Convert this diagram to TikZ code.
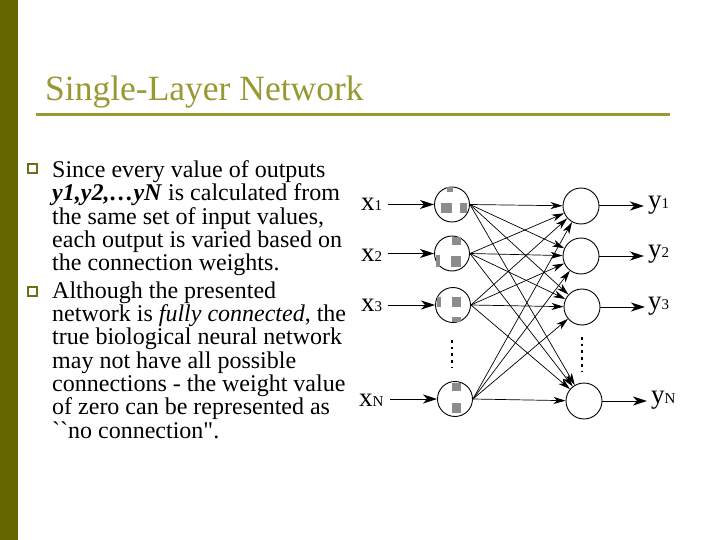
\documentclass[tikz,border=0pt]{standalone}
\usepackage{fontspec}
\setmainfont{Liberation Serif}[Ligatures=TeXOff]
\usetikzlibrary{arrows.meta,patterns}
\definecolor{barolive}{RGB}{102,102,0}
\definecolor{titleolive}{RGB}{153,153,51}
\definecolor{bulletolive}{RGB}{110,110,20}
\newcommand\sublab[1]{{\fontsize{15}{15}\selectfont #1}}
\begin{document}
\begin{tikzpicture}[x=1pt,y=-1pt,
  bulletbox/.style={draw=bulletolive,line width=2pt,fill=white,minimum size=9pt,inner sep=0pt},
  para/.style={anchor=north west,inner sep=0pt,align=left,font=\fontsize{24}{23.3}\selectfont},
  incircle/.style={circle,draw,line width=0.9pt,minimum size=35pt,inner sep=0pt},
  outcircle/.style={circle,draw,line width=0.9pt,minimum size=36pt,inner sep=0pt},
  lab/.style={anchor=base west,inner sep=0pt,font=\fontsize{27}{27}\selectfont},
  inarrow/.style={line width=1pt,-{Stealth[length=14pt,width=9pt,inset=4pt]}},
  outarrow/.style={line width=1pt,-{Stealth[length=14pt,width=9pt,inset=4pt]}},
  conn/.style={line width=0.7pt,-{Stealth[length=12pt,width=7pt,inset=3.5pt]}},
  dotline/.style={line width=2.7pt,dash pattern=on 2.7pt off 4pt},
  spot/.style={fill=black!45}
]
\useasboundingbox (0,0) rectangle (720,540);
\fill[white] (0,0) rectangle (720,540);
\fill[barolive] (0,0) rectangle (18,540);
% title
\node[anchor=base west,inner sep=0pt,text=titleolive,font=\fontsize{35.5}{40}\selectfont] (title) at (45,101) {Single-Layer Network};
\draw[titleolive,line width=3pt] (36,114.5) -- (670,114.5);
% bullets
\node[bulletbox] (b1) at (32,169) {};
\node[bulletbox] (b2) at (32,291) {};
\node[para] (p1) at (52,160.4) {Since every value of outputs\\
\textbf{\textit{y1,y2,…yN}}  is calculated from\\
the same set of input values,\\
each output is varied based on\\
the connection weights.};
\node[para] (p2) at (52,281.4) {Although the presented\\
network is \textit{fully connected}, the\\
true biological neural network\\
may not have all possible\\
connections - the weight value\\
of zero can be represented as\\
\symbol{96}\symbol{96}no connection\symbol{34}.};
% input neurons
\node[incircle] (i1) at (452,204.5) {};
\node[incircle] (i2) at (452,253.5) {};
\node[incircle] (i3) at (453,305) {};
\node[incircle] (iN) at (455,399) {};
% spots inside input neurons
\fill[spot] (447,187) rectangle (453,192);
\fill[spot] (441,203) rectangle (452,213);
\fill[spot] (460,203) rectangle (467,213);
\fill[spot] (452,237) rectangle (461,245);
\fill[spot] (451,256) rectangle (461,267);
\fill[spot] (436,255) rectangle (440,267);
\fill[spot] (437,297) rectangle (441,307);
\fill[spot] (452,297) rectangle (461,307);
\fill[spot] (452,317) rectangle (461,322);
\fill[spot] (452,383) rectangle (461,391);
\fill[spot] (452,403) rectangle (461,413);
% output neurons
\node[outcircle] (o1) at (581,206) {};
\node[outcircle] (o2) at (581,256) {};
\node[outcircle] (o3) at (582,307) {};
\node[outcircle] (oN) at (584,401) {};
% input labels
\node[lab] (x1) at (361,211) {x\sublab{1}};
\node[lab] (x2) at (361,261) {x\sublab{2}};
\node[lab] (x3) at (361,311) {x\sublab{3}};
\node[lab] (xN) at (359,406) {x\sublab{N}};
\coordinate (x1s) at (388,204.5);
\coordinate (x2s) at (388,253.5);
\coordinate (x3s) at (388,305);
\coordinate (xNs) at (390,399);
\draw[inarrow] (x1s) -- (i1.west);
\draw[inarrow] (x2s) -- (i2.west);
\draw[inarrow] (x3s) -- (i3.west);
\draw[inarrow] (xNs) -- (iN.west);
% output labels
\node[lab] (y1) at (648,208) {y\sublab{1}};
\node[lab] (y2) at (648,258) {y\sublab{2}};
\node[lab] (y3) at (648,309) {y\sublab{3}};
\node[lab] (yN) at (651,403) {y\sublab{N}};
\coordinate (y1s) at (644,206);
\coordinate (y2s) at (644,256);
\coordinate (y3s) at (645,307);
\coordinate (yNs) at (647,401);
\draw[outarrow] (o1.east) -- (y1s);
\draw[outarrow] (o2.east) -- (y2s);
\draw[outarrow] (o3.east) -- (y3s);
\draw[outarrow] (oN.east) -- (yNs);
% connections
\foreach \a in {i1,i2,i3,iN}
  \foreach \b in {o1,o2,o3,oN}
    \draw[conn] (\a.east) -- (\b);
% dots
\draw[dotline] (452,340) -- (452,368);
\draw[dotline] (582,337) -- (582,371);
\end{tikzpicture}
\end{document}
